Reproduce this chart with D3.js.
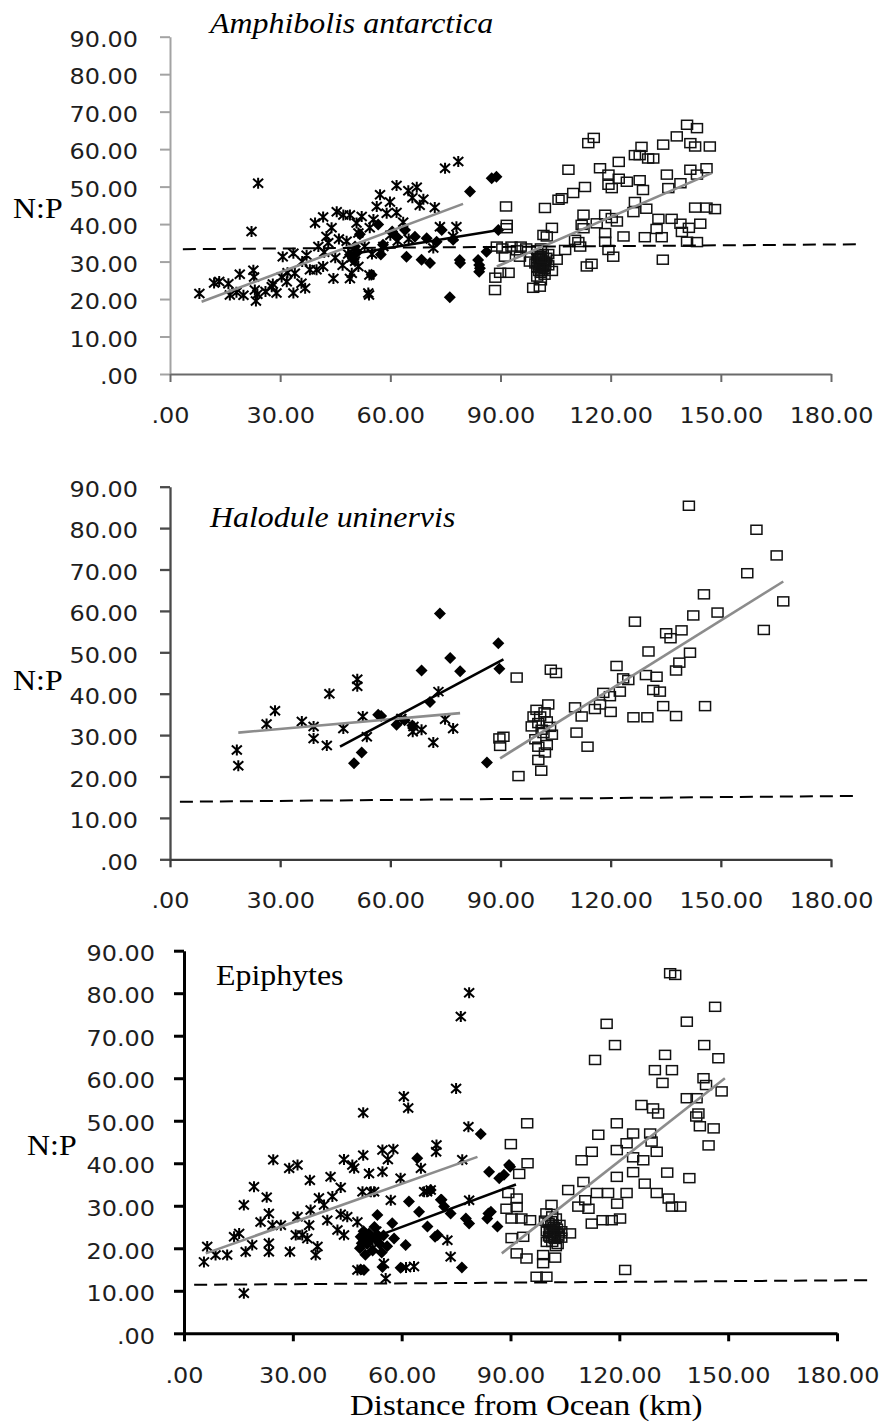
<!DOCTYPE html>
<meta charset="utf-8">
<html>
<head>
<style>
  body { margin: 0; background: #fff; }
  .tick text { font-family: "DejaVu Sans", Verdana, sans-serif; font-size: 21px; fill: #1e1e1e; }
  .serif { font-family: "Liberation Serif", "Times New Roman", serif; fill: #000; }
</style>
</head>
<body>
<div id="chart"></div>
<script src="https://d3js.org/d3.v7.min.js"></script>
<script>
// tick values shared by the three panels
var xTicks = [0, 30, 60, 90, 120, 150, 180];
var yTicks = [0, 10, 20, 30, 40, 50, 60, 70, 80, 90];

// ---- Amphibolis antarctica ----
var amphStar = [[8,21.5],[12,24.3],[13.4,24.7],[15.9,24.1],[16.3,21.1],[18.1,21.8],[19,26.6],[20,21],[22.7,27.7],[22.9,25.9],[23.1,22.4],[23.8,21.3],[23.4,19.5],[24,50.9],[22.2,38],[26,22],[27.7,23.3],[28,24],[29,21.6],[30.7,31.3],[30.4,25.9],[31.8,24.6],[32,27],[33.6,32.2],[33.6,21.6],[34,26.9],[35.8,24.2],[36,30],[36.8,22.9],[37.2,31.7],[38.1,27.8],[39.5,40.3],[39.9,27.8],[40.4,34],[41.7,41.9],[41.7,28.7],[42,32.5],[42.6,36.7],[43.1,35],[44,39],[44.5,25.5],[45,31],[45.4,43.3],[46,36],[47,29],[47.2,42.4],[49,42.4],[48.1,35.4],[48.5,32],[49.5,31],[50,33.5],[49.5,26.9],[49,25.5],[50.4,30.1],[51.3,28.7],[50.8,40.3],[52.2,42],[51.3,37.6],[53,34],[54.4,39],[54.2,21.1],[54,21.6],[54.3,26.4],[55,32],[55.4,41.2],[56.3,44.7],[57.2,47.8],[58.1,34],[59,42.9],[59.9,45.9],[60,37],[61.7,50.3],[61.7,43.1],[62,35.5],[63.5,40.5],[64.9,48.9],[65,36],[66,47],[67.2,49.8],[68,45],[69,46.6],[72.1,44.4],[71.7,33.6],[73.5,39.3],[74.9,54.9],[78.5,56.7],[78,39.3],[77.1,36.7]];
var amphDiamond = [[49,31.8],[50,30.5],[50.4,34],[51,32.5],[51.7,37.3],[54.9,26.5],[56.7,39.9],[57.4,31.9],[58,34.5],[60.5,38],[61.7,36.6],[64,38.4],[64.4,31.3],[66.7,36.6],[68.5,30.5],[69.9,36.2],[70.8,29.6],[72.6,35.3],[74,38.4],[76.2,20.5],[77.1,35.8],[78.9,30.4],[79,29.6],[81.7,48.7],[83.9,30.4],[84.2,29.1],[84.2,27.3],[84.4,28.2],[86.2,32.6],[87.6,52.2],[88.9,52.6],[89.4,38.4]];
var amphSquare = [[91.5,44.7],[91.7,39.8],[91.7,38.9],[89,34],[90.5,33.5],[93,34],[95.5,34],[94.5,33],[97,33.5],[98,30],[89.9,27],[92.2,27],[88.6,25.7],[88.5,22.4],[91.2,31.3],[95.3,31.3],[98.9,23],[100.7,23.3],[100,30],[101,29],[100.5,31],[102,28],[101,27],[100,28.5],[102,30],[101.5,32],[100,26],[101,25],[102,26.5],[100.5,27.5],[103,29],[101,31.5],[99.5,29.5],[102.5,31],[100,33],[103,32],[100.8,29.5],[101.2,30.3],[101.6,28.6],[100.4,29],[101.8,29.8],[101,28.2],[100.7,30.8],[101.4,27.6],[102.2,29.2],[100.2,31.6],[101.6,31],[101,33.5],[101.7,37.1],[102.6,36.7],[104,39],[105.3,30.5],[104,27.5],[102.1,44.3],[105.8,46.5],[106.7,46.9],[108.5,54.5],[109.8,48.3],[110.3,35.8],[107.6,33.1],[111.2,35.2],[111.7,34],[112.6,42.5],[113,49.9],[112.1,39.8],[112.6,38.9],[113.9,61.6],[115.4,63],[113.5,28.7],[114.8,29.4],[116.2,40.2],[117.1,54.9],[119.4,53.2],[120.3,49.6],[119.4,50.5],[118.5,42.5],[118.5,37.6],[118.5,35.3],[120.3,41.6],[121.7,40.7],[119.4,33.1],[120.7,31.3],[122.2,56.6],[122.2,52.1],[123.5,36.7],[124.4,51.3],[126.6,58.4],[128.4,60.6],[127.9,58.4],[130.2,57.5],[131.6,57.5],[127.9,51.7],[128.8,49.1],[126.6,45.9],[126.2,43.2],[129.7,44.1],[129.3,36.5],[132.5,38.7],[133,41.4],[133.9,36.5],[134.2,30.5],[134.3,61.2],[135.3,53.2],[135.7,49.6],[136.6,41.4],[138,63.4],[139,50.9],[139.4,37.9],[139,40.1],[140.8,35.3],[140.8,66.5],[141.7,54.5],[141.3,39],[143.5,65.6],[143,60.7],[141.7,61.6],[143.5,35.2],[144.4,40.1],[143,44.4],[146.1,44.4],[148.4,44],[147,60.7],[146.1,54.9],[143.5,53.2]];
var amphTrendStar = [[8.6,19.3],[79.8,45.4]];
var amphTrendDiamond = [[50.8,32.2],[90,38.5]];
var amphTrendSquare = [[89,28.7],[147.5,53.6]];
var amphRatio = [[3.5,33.3],[187,34.6]];

// ---- Halodule uninervis ----
var haloStar = [[18.2,26.4],[18.6,22.6],[26.3,32.7],[28.6,35.9],[35.9,33.3],[39.1,32.1],[39.1,29.2],[42.7,27.5],[43.4,40],[47.2,31.6],[51,43.5],[51,41.8],[52.5,34.5],[53.6,29.6],[63,34],[66.3,32.1],[66.1,30.8],[68.5,31.3],[71.7,28.2],[73.1,40.5],[74.9,33.8],[77.1,31.6]];
var haloDiamond = [[50.1,23.2],[52.2,25.8],[56.7,34.9],[57.5,34.6],[61.7,32.5],[63.9,33.6],[66,32.3],[68.5,45.6],[70.8,38],[73.5,59.4],[76.3,48.6],[79,45.4],[86.3,23.4],[89.4,52.2],[89.7,46]];
var haloSquare = [[94.4,43.9],[89.7,29.2],[90.8,29.6],[89.9,27.4],[94.9,20.1],[103.7,45.8],[105.1,45],[99.8,36.1],[99,34.5],[100.3,32.9],[102.6,33.3],[103,37.4],[101.7,30.5],[104,30.1],[100.3,27.2],[102.6,27.6],[102.1,25.8],[100.3,24],[101.1,21.4],[98.5,32.1],[100.8,34.5],[101.2,31.3],[99.5,29],[102,35.5],[103.5,32],[110.3,36.7],[112.1,34.5],[110.7,30.6],[113.7,27.2],[115.7,36.3],[117.1,37.4],[118,40.2],[119.8,39.4],[120,35.6],[121.6,46.7],[122.5,40.5],[123.4,43.7],[124.8,43.3],[126.6,57.4],[126.2,34.3],[129.6,44.5],[130,34.3],[130.3,50.2],[131.6,40.9],[132.5,44.1],[133.4,40.5],[134.3,37],[135.1,54.6],[136.3,53.4],[139.3,55.3],[137.8,34.6],[137.8,45.6],[138.7,47.5],[141.6,49.9],[142.5,58.9],[145.4,64],[145.7,37],[149.1,59.6],[141.3,85.4],[157.2,69.1],[159.7,79.6],[161.7,55.4],[165.2,73.4],[167,62.3]];
var haloTrendStar = [[18.6,30.6],[79,35.3]];
var haloTrendDiamond = [[46.3,27.2],[90.8,48.3]];
var haloTrendSquare = [[89.9,24.4],[167,67.1]];
var haloRatio = [[2.7,13.9],[186.5,15.3]];

// ---- Epiphytes ----
var epiStar = [[5.5,16.8],[6.4,20.4],[8.7,18.4],[11.9,18.4],[13.8,22.7],[15.2,23.5],[16.5,30.2],[16.5,9.4],[17,19.2],[18.8,20.8],[19.3,34.5],[21.1,26.2],[22.8,32],[23.4,21.2],[23.4,19.2],[23.4,28.2],[24.6,40.8],[24.4,25.4],[26.7,25.4],[29,38.8],[31.3,39.6],[29.2,19.2],[31.3,27.4],[30.8,23.1],[32.6,23.1],[34,22.3],[34.5,25.4],[34.7,36],[34.9,29],[36.3,18.4],[36.8,20.4],[37.2,31.8],[38.6,30.2],[40.4,36.8],[39.5,26.6],[40.9,32.2],[42.3,24.3],[43.2,34.3],[43.2,28],[44.1,23.1],[44.1,40.9],[45,27.4],[46.4,39.6],[46.9,38.8],[47.8,26.2],[49.2,33.3],[49.4,41.9],[49.4,51.9],[51,37.6],[51.5,33.3],[52.4,33.3],[54.7,43.1],[54.7,38],[56.2,40.9],[57,31.3],[57.7,43.3],[55.1,16.4],[55.6,12.9],[59.7,36.5],[60.6,55.7],[61.8,53],[65.3,38.8],[66.2,33.3],[68,33.7],[69.6,44.3],[69.5,42.7],[72.6,21.9],[73.5,18],[63.4,15.7],[47.8,14.9],[78.4,48.6],[76.7,40.8],[78.6,31.3],[78.6,80.1],[76.3,74.5],[75,57.6],[67,33.3],[61.2,15.5],[50,22],[52,20],[53,24]];
var epiDiamond = [[48.7,22.7],[49.5,24],[50.5,21],[51,23.5],[52,19.5],[53,22],[54,21],[55,23],[54.5,19],[50,18.5],[52.5,25],[56,20.5],[48.5,20],[49.5,22],[51.5,22.2],[50.2,23.3],[53.5,23],[49,21.2],[53.3,27.8],[49.6,14.9],[48.7,15],[54.7,15.6],[59.7,15.4],[57.4,25.9],[57.9,22.3],[61.1,20.8],[62,31],[64.3,41.2],[64.8,28.6],[67.1,25.1],[68,33.7],[69.9,23.1],[70.8,31.4],[71.7,29.8],[73.5,28.2],[77.7,27],[78.6,25.8],[76.6,15.5],[81.8,46.9],[84.1,38],[83.6,27],[84.6,28.6],[86.4,25.1],[86.9,36.5],[88.2,37.3],[89.6,39.6],[89.9,39.2],[83.9,28.2],[69.2,22.7],[71,31.4]];
var epiSquare = [[94.6,49.4],[90.1,44.5],[94.7,40],[92.4,37.5],[89.4,33],[91.7,31.7],[88.9,29.3],[91.7,29.7],[90.3,27],[93,27],[95.4,26.6],[90.3,22.4],[93.5,22.7],[91.7,18.8],[94.4,17.6],[99,18.4],[102.3,17.8],[99,16.5],[97.2,13.3],[99.9,13.3],[121.6,14.9],[99.9,28.2],[101.3,30.2],[100,24],[101,22.5],[102,25],[103,23.5],[101.5,21.5],[100.5,26],[102.5,27],[103.5,25.5],[101,24.5],[102,22.5],[100,21.5],[103,21],[104,24],[99.5,26.5],[101.5,27.5],[104,22.5],[102.5,20.5],[101.3,23.5],[101.8,24.2],[102.4,23.8],[100.8,23.8],[101.6,25.6],[102.8,24.6],[101.2,26.4],[102.2,22.2],[100.6,22.8],[103.2,22.8],[101.9,23.1],[105.9,33.7],[106.4,23.5],[108.7,29.8],[109.6,40.7],[110.1,35.6],[110.6,31.3],[111.5,29.3],[112.4,42.7],[112.4,25.8],[113.8,33],[114.2,46.7],[113.3,64.3],[115.4,26.6],[116.5,72.8],[116.9,33],[117.9,26.6],[118.8,67.8],[119.3,49.4],[119.3,43.1],[119.3,36.8],[119.4,30.5],[120.2,27],[122,33],[122,44.7],[123.8,47],[123.8,37.9],[123.8,41.4],[126.6,40.7],[127,35.2],[128.5,47],[128.9,45.1],[130.3,42.7],[130.3,33],[133.2,37.8],[133.6,31.7],[134.5,29.8],[136.8,29.8],[126.1,53.7],[129.3,52.9],[130.7,51.7],[129.8,61.9],[131.9,58.9],[132.6,65.5],[134.5,61.9],[134,84.7],[135.4,84.3],[138.6,55.3],[138.6,73.3],[139.3,36.5],[141.8,51.7],[141.2,51],[143.2,60],[143.9,58.4],[143.4,67.8],[144.6,44.2],[146,48.2],[142.2,48.7],[146.4,76.8],[147.3,64.7],[148.2,56.9],[141.3,55.3]];
var epiTrendStar = [[6,18.8],[80.9,41.5]];
var epiTrendDiamond = [[49,21.5],[91.5,35]];
var epiTrendSquare = [[87.6,18.8],[149.1,60]];
var epiRatio = [[2.8,11.4],[189,12.5]];

var svg = d3.select("#chart").append("svg")
    .attr("width", 879)
    .attr("height", 1423);

var fmt = function(d) { return d === 0 ? ".00" : d3.format(".2f")(d); };

var panels = [
  {title: "Amphibolis antarctica", italic: true, tx: 210, ty: 33, npy: 218, npx: 13,
   x0: 170, x1: 831, yb: 374, yt: 36.7, yAxisColor: "#a3a3a3", xAxisColor: "#6a6a6a", axisW: 2, labelRight: 138, xLabelTop: 34,
   star: amphStar, diamond: amphDiamond, square: amphSquare,
   tStar: amphTrendStar, tDiamond: amphTrendDiamond, tSquare: amphTrendSquare, ratio: amphRatio},
  {title: "Halodule uninervis", italic: true, tx: 210, ty: 527, npy: 690, npx: 13,
   x0: 170, x1: 831, yb: 859.3, yt: 486.7, yAxisColor: "#4a4a4a", xAxisColor: "#3a3a3a", axisW: 2.3, labelRight: 138, xLabelTop: 34,
   star: haloStar, diamond: haloDiamond, square: haloSquare,
   tStar: haloTrendStar, tDiamond: haloTrendDiamond, tSquare: haloTrendSquare, ratio: haloRatio},
  {title: "Epiphytes", italic: false, tx: 216, ty: 985, npy: 1155, npx: 27,
   x0: 184, x1: 837, yb: 1333.3, yt: 950.7, yAxisColor: "#000", xAxisColor: "#000", axisW: 3, labelRight: 155, xLabelTop: 35,
   star: epiStar, diamond: epiDiamond, square: epiSquare,
   tStar: epiTrendStar, tDiamond: epiTrendDiamond, tSquare: epiTrendSquare, ratio: epiRatio}
];

var stretch = 1.14;

panels.forEach(function(p) {
  var x = d3.scaleLinear().domain([0, 180]).range([p.x0, p.x1]);
  var y = d3.scaleLinear().domain([0, 90]).range([p.yb, p.yt]);

  // y axis
  var gy = svg.append("g")
      .attr("transform", "translate(" + p.x0 + ",0)")
      .call(d3.axisLeft(y).tickValues(yTicks).tickFormat(fmt).tickSize(10).tickSizeOuter(0));
  gy.selectAll("path, line").attr("stroke", p.yAxisColor).attr("stroke-width", p.axisW);
  gy.selectAll("text")
      .attr("x", -(p.x0 - p.labelRight) / stretch)
      .attr("y", 3)
      .attr("transform", "scale(" + stretch + ",1)");

  // x axis
  var gx = svg.append("g")
      .attr("transform", "translate(0," + p.yb + ")")
      .call(d3.axisBottom(x).tickValues(xTicks).tickFormat(fmt).tickSize(8).tickSizeOuter(0));
  gx.selectAll("path, line").attr("stroke", p.xAxisColor).attr("stroke-width", p.axisW);
  gx.selectAll("text")
      .attr("y", p.xLabelTop)
      .attr("dy", "0.71em")
      .attr("transform", "scale(" + stretch + ",1)")
      .attr("x", 0);

  // markers
  svg.append("g").selectAll("path.star")
    .data(p.star).enter().append("path")
      .attr("transform", function(d) { return "translate(" + x(d[0]) + "," + y(d[1]) + ")"; })
      .attr("d", "M-5,-4.5L5,4.5M-5,4.5L5,-4.5M0,-5.5V5.5")
      .attr("stroke", "#000").attr("stroke-width", 2).attr("fill", "none");

  svg.append("g").selectAll("path.diamond")
    .data(p.diamond).enter().append("path")
      .attr("transform", function(d) { return "translate(" + x(d[0]) + "," + y(d[1]) + ")"; })
      .attr("d", "M0,-6L6,0L0,6L-6,0Z")
      .attr("fill", "#000");

  svg.append("g").selectAll("rect")
    .data(p.square).enter().append("rect")
      .attr("x", function(d) { return x(d[0]) - 5.5; })
      .attr("y", function(d) { return y(d[1]) - 4.5; })
      .attr("width", 11).attr("height", 9)
      .attr("fill", "none").attr("stroke", "#111").attr("stroke-width", 1.5);

  var line = d3.line().x(function(d) { return x(d[0]); }).y(function(d) { return y(d[1]); });

  // trend lines
  [[p.tStar, "#8c8c8c"], [p.tSquare, "#8c8c8c"], [p.tDiamond, "#000"]].forEach(function(t) {
    svg.append("path").datum(t[0])
      .attr("d", line)
      .attr("fill", "none").attr("stroke", t[1]).attr("stroke-width", 2.6);
  });

  // dashed reference line
  svg.append("path").datum(p.ratio)
    .attr("d", line)
    .attr("fill", "none").attr("stroke", "#000").attr("stroke-width", 2)
    .attr("stroke-dasharray", "13,7");

  // titles
  svg.append("text").attr("class", "serif")
    .attr("transform", "translate(" + p.tx + "," + p.ty + ") scale(1.1,1)")
    .style("font-size", "29px")
    .style("font-style", p.italic ? "italic" : "normal")
    .text(p.title);

  svg.append("text").attr("class", "serif")
    .attr("transform", "translate(" + p.npx + "," + p.npy + ") scale(1.1,1)")
    .style("font-size", "29px")
    .text("N:P");
});

svg.append("text").attr("class", "serif")
  .attr("transform", "translate(350,1415) scale(1.1,1)")
  .style("font-size", "30px")
  .text("Distance from Ocean (km)");
</script>
</body>
</html>
